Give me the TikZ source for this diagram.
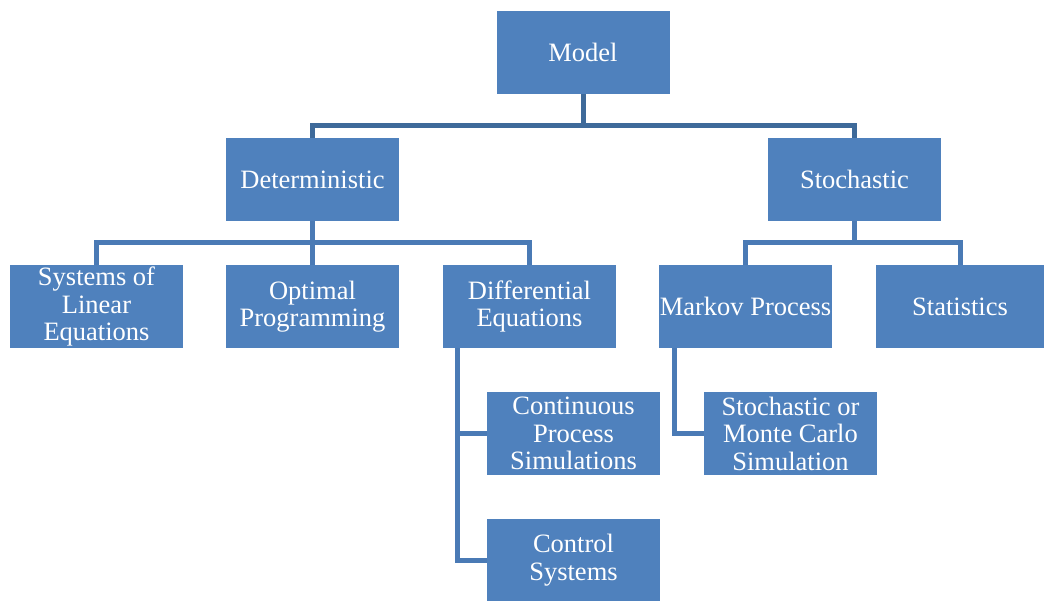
\documentclass[tikz,border=0pt]{standalone}
\usepackage{fontspec}
\setmainfont{Liberation Serif}
\usepackage{tikz}

\definecolor{boxblue}{HTML}{4F81BD}
\definecolor{topline}{HTML}{3E6A9A}
\definecolor{subline}{HTML}{4A7AB5}

\tikzset{
  box/.style={rectangle, fill=boxblue, text=white, minimum width=173pt,
    minimum height=83pt, inner sep=0pt, align=center,
    font=\fontsize{26.5}{27.5}\selectfont},
  conn/.style={line width=5pt, subline},
  topconn/.style={line width=5pt, topline}
}

\begin{document}
\begin{tikzpicture}[x=1pt, y=-1pt]
\useasboundingbox (0,0) rectangle (1044,601);

%% boxes
\node[box] (model) at (583,52.5) {Model};
\node[box] (det) at (312.5,179.5) {Deterministic};
\node[box] (stoch) at (854.5,179.5) {Stochastic};
\node[box] (lin) at (96.5,306.5) {Systems of\\Linear\\Equations};
\node[box] (opt) at (312.5,306.5) {Optimal\\Programming};
\node[box] (diff) at (529.5,306.5) {Differential\\Equations};
\node[box] (markov) at (745.5,306.5) {Markov Process};
\node[box, minimum width=168pt] (stat) at (960,306.5) {Statistics};
\node[box] (cont) at (573.5,433.5) {Continuous\\Process\\Simulations};
\node[box] (monte) at (790.5,433.5) {Stochastic or\\Monte Carlo\\Simulation};
\node[box] (ctrl) at (573.5,560) {Control\\Systems};

%% top level
\draw[topconn] (model.south) -- ++(0,31) -| (det.north);
\draw[topconn] (model.south) -- ++(0,31) -| (stoch.north);

%% second level
\draw[conn] (det.south) -- ++(0,21) -| (lin.north);
\draw[conn] (det.south) -- (opt.north);
\draw[conn] (det.south) -- ++(0,21) -| (diff.north);
\draw[conn] (stoch.south) -- ++(0,21) -| (markov.north);
\draw[conn] (stoch.south) -- ++(0,21) -| (stat.north);

%% third level
\draw[conn] (diff.south west) ++(15,0) |- (cont.west);
\draw[conn] (diff.south west) ++(15,0) |- (ctrl.west);
\draw[conn] (markov.south west) ++(16,0) |- (monte.west);
\end{tikzpicture}
\end{document}
